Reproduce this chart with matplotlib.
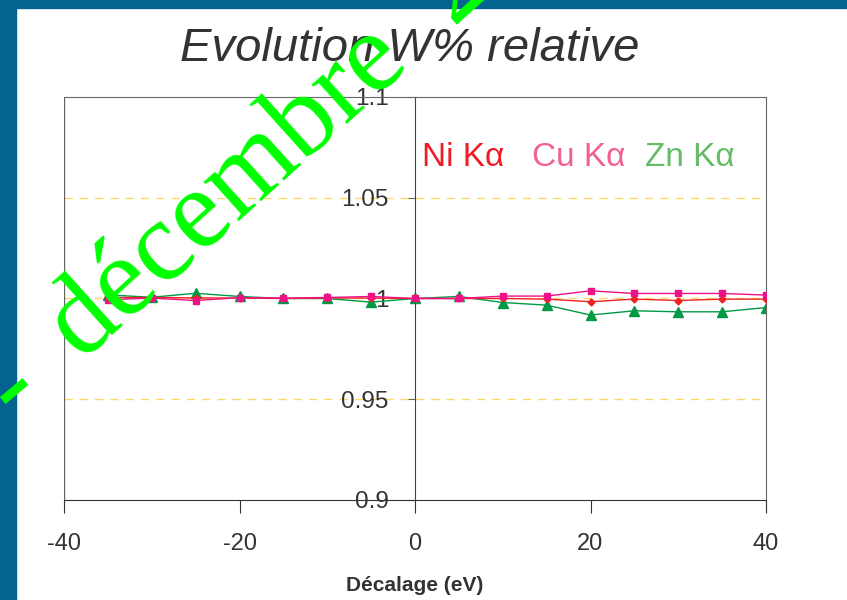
import matplotlib.pyplot as plt
from matplotlib.patches import Rectangle

shift = [-35, -30, -25, -20, -15, -10, -5, 0, 5, 10, 15, 20, 25, 30, 35, 40]
ni_ka = [1.0005, 1.0005, 1.0003, 1.0002, 1.0, 1.0003, 1.0002, 1.0, 1.0, 1.0, 0.9997, 0.9984, 0.9997, 0.999, 0.9997, 0.9997]
cu_ka = [0.9994, 1.0002, 0.999, 1.0004, 1.0002, 1.0005, 1.001, 1.0, 1.0, 1.0012, 1.0012, 1.0038, 1.0025, 1.0025, 1.0025, 1.0017]
zn_ka = [1.0018, 1.0006, 1.0026, 1.001, 1.0, 1.0, 0.9982, 1.0, 1.001, 0.998, 0.9967, 0.9918, 0.9939, 0.9934, 0.9934, 0.9955]

xticks = [-40, -20, 0, 20, 40]
yticks = [0.9, 0.95, 1.0, 1.05, 1.1]
ylabels = ['0.9', '0.95', '1', '1.05', '1.1']

plt.rcParams['font.family'] = 'Liberation Sans'
txt = '#333333'

fig = plt.figure(figsize=(8.47, 6.0), dpi=100)
ax = fig.add_axes([64/847, 1-500/600, (766-64)/847, (500-97)/600])

# blue slide border
border = '#05648f'
fig.patches.append(Rectangle((0, 0), 16/847, 1, transform=fig.transFigure, color=border, zorder=0))
fig.patches.append(Rectangle((0, 1-8/600), 1, 8/600, transform=fig.transFigure, color=border, zorder=0))

for y in [0.95, 1.0, 1.05]:
    ax.axhline(y, color='#ffd966', lw=1, ls=(0, (6, 5)), zorder=1)

ax.plot(shift, ni_ka, color='#ee2222', marker='D', ms=3.5, lw=1, zorder=3)
ax.plot(shift, cu_ka, color='#ee1188', marker='s', ms=4, lw=1, zorder=4)
ax.plot(shift, zn_ka, color='#009944', marker='^', ms=7, lw=1, zorder=2)

ax.set_xlim(-40, 40)
ax.set_ylim(0.9, 1.1)

# y axis crosses at x=0, keep a frame at x=-40
ax.spines['left'].set_position(('data', 0))
ax.spines['left'].set_color('#444444')
ax.axvline(-40, color='#666666', lw=1, zorder=1)
for s in ['top', 'right']:
    ax.spines[s].set_color('#666666')
ax.spines['bottom'].set_color('#333333')

ax.set_xticks(xticks)
ax.set_xticklabels([str(v) for v in xticks])
ax.set_yticks(yticks)
ax.set_yticklabels(ylabels)
ax.tick_params(axis='x', direction='out', length=9, pad=15, labelsize=17, colors='#333333', labelcolor=txt)
ax.tick_params(axis='y', direction='out', length=5, pad=14, labelsize=17.5, colors='#666666', labelcolor=txt)

ax.set_xlabel('Décalage (eV)', fontsize=15, fontweight='bold', color=txt, labelpad=15)
fig.text(410/847, 1-49/600, 'Evolution W% relative', fontsize=34, style='italic',
         color=txt, ha='center', va='center')

ax.text(0.8, 1.07, 'Ni Kα', color='#ee1c25', fontsize=24, va='center', ha='left')
ax.text(13.3, 1.07, 'Cu Kα', color='#f06090', fontsize=24, va='center', ha='left')
ax.text(26.2, 1.07, 'Zn Kα', color='#66bb66', fontsize=24, va='center', ha='left')

# watermark
wm = dict(family='Liberation Serif', color='#00ff00', rotation_mode='anchor', zorder=10)
fig.text(13/847, 1-388/600, '-', fontsize=82, rotation=40, ha='center', va='center', **wm)
fig.text(82/847, 1-362/600, 'décembre  2', fontsize=82, rotation=42, ha='left', va='baseline', **wm)

fig.savefig('out.png', dpi=100)
